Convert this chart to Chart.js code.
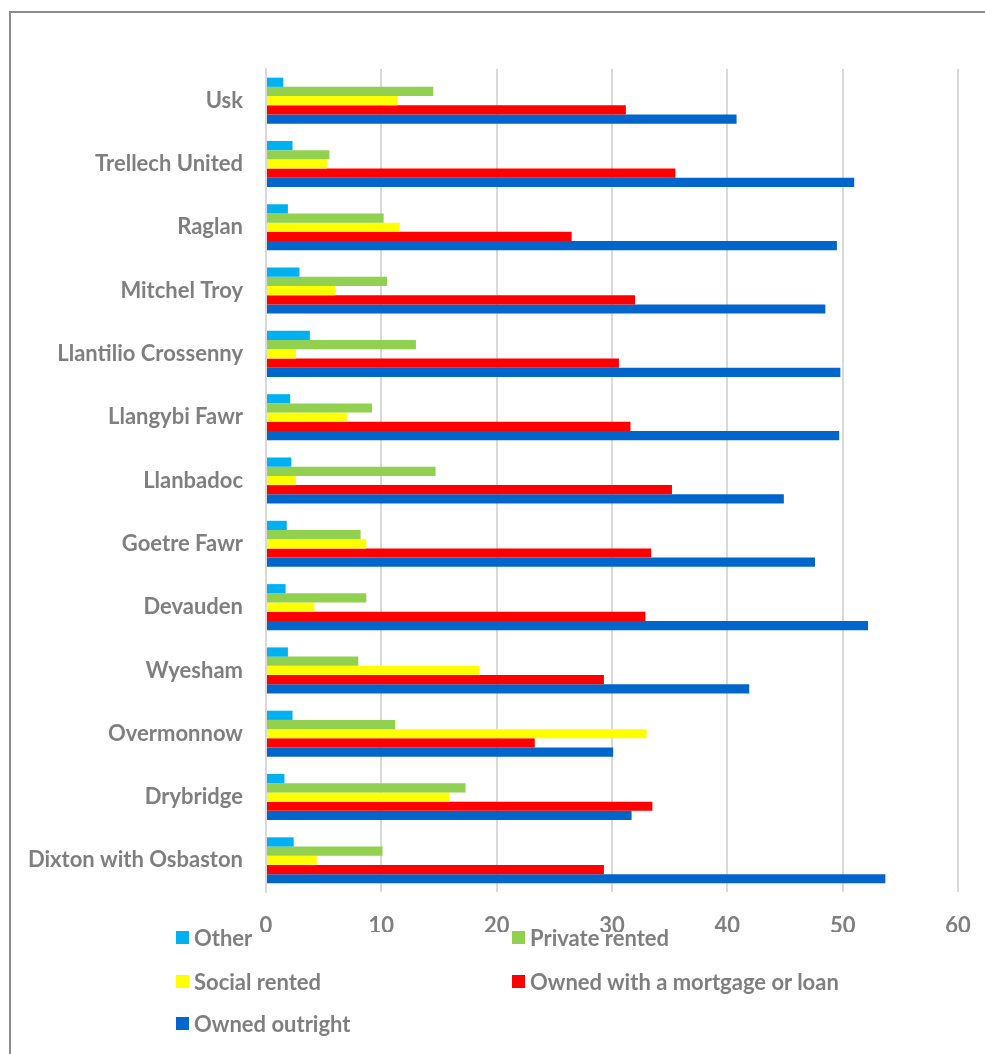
<!DOCTYPE html>
<html>
<head>
<meta charset="utf-8">
<script src="https://cdn.jsdelivr.net/npm/chart.js@4.4.0/dist/chart.umd.min.js"></script>
<style>
  html, body { margin: 0; padding: 0; background: #fff; overflow: hidden; }
  body { width: 985px; height: 1054px; position: relative; font-family: Lato, sans-serif; }
  .frame { position: absolute; left: 9px; top: 11px; width: 1100px; height: 1100px; border: 2px solid #8c8c8c; box-sizing: border-box; }
  #wrap { position: absolute; left: 0; top: 0; width: 985px; height: 1054px; }
  .legend { position: absolute; left: 176px; top: 926px; display: grid; grid-template-columns: 336px auto; grid-template-rows: 44px 42px 42px; }
  .item { display: flex; align-items: center; height: 22px; font-weight: bold; font-size: 22px; color: #7f7f7f; white-space: nowrap; }
  .box { width: 13px; height: 13px; margin-right: 5px; flex: none; }
</style>
</head>
<body>
<div class="frame"></div>
<div id="wrap"><canvas id="chart" width="985" height="1054"></canvas></div>
<div class="legend" id="legend"></div>
<script>
// wards, top to bottom
const wards = ['Usk', 'Trellech United', 'Raglan', 'Mitchel Troy', 'Llantilio Crossenny', 'Llangybi Fawr',
  'Llanbadoc', 'Goetre Fawr', 'Devauden', 'Wyesham', 'Overmonnow', 'Drybridge', 'Dixton with Osbaston'];

// % of households by tenure
const other = [1.5, 2.3, 1.9, 2.9, 3.8, 2.1, 2.2, 1.8, 1.7, 1.9, 2.3, 1.6, 2.4];
const privateRented = [14.5, 5.5, 10.2, 10.5, 13.0, 9.2, 14.7, 8.2, 8.7, 8.0, 11.2, 17.3, 10.1];
const socialRented = [11.4, 5.3, 11.6, 6.0, 2.6, 7.0, 2.6, 8.7, 4.2, 18.5, 33.0, 15.9, 4.4];
const mortgage = [31.2, 35.5, 26.5, 32.0, 30.6, 31.6, 35.2, 33.4, 32.9, 29.3, 23.3, 33.5, 29.3];
const outright = [40.8, 51.0, 49.5, 48.5, 49.8, 49.7, 44.9, 47.6, 52.2, 41.9, 30.1, 31.7, 53.7];

const xTicks = [0, 10, 20, 30, 40, 50, 60];

const seriesNames = ['Other', 'Private rented', 'Social rented', 'Owned with a mortgage or loan', 'Owned outright'];
const seriesData = [other, privateRented, socialRented, mortgage, outright];
const seriesColors = ['#00b0f0', '#92d050', '#ffff00', '#ff0000', '#0066cc'];

const textGrey = '#7f7f7f';

function draw() {
  Chart.defaults.font.family = 'Lato';
  Chart.defaults.font.weight = 'bold';
  Chart.defaults.font.size = 22;
  Chart.defaults.color = textGrey;

  const datasets = seriesNames.map((name, i) => ({
    label: name,
    data: seriesData[i],
    backgroundColor: seriesColors[i],
    borderWidth: 0,
    categoryPercentage: 0.727,
    barPercentage: 1
  }));

  new Chart(document.getElementById('chart'), {
    type: 'bar',
    data: { labels: wards, datasets: datasets },
    options: {
      indexAxis: 'y',
      responsive: false,
      devicePixelRatio: 1,
      animation: false,
      layout: { padding: { left: 0, right: 27, top: 69, bottom: 122 } },
      plugins: { legend: { display: false }, tooltip: { enabled: false } },
      scales: {
        x: {
          min: xTicks[0],
          max: xTicks[xTicks.length - 1],
          afterBuildTicks: (scale) => { scale.ticks = xTicks.map(v => ({ value: v })); },
          afterFit: (scale) => {
            scale.height = 40;
            // keep the plot edge where the picture has it
            scale.paddingLeft = 0;
            scale.paddingRight = 0;
          },
          grid: { color: '#d9d9d9', lineWidth: 2, drawTicks: false },
          border: { display: false },
          ticks: { padding: 21, maxRotation: 0 }
        },
        y: {
          afterFit: (scale) => { scale.width = 266; },
          grid: { display: false, drawTicks: false },
          border: { display: true, color: '#d9d9d9', width: 2 },
          ticks: { padding: 23 }
        }
      }
    }
  });

  // legend in two columns, same order as the datasets
  const legend = document.getElementById('legend');
  seriesNames.forEach((name, i) => {
    const item = document.createElement('div');
    item.className = 'item';
    const box = document.createElement('span');
    box.className = 'box';
    box.style.background = seriesColors[i];
    item.appendChild(box);
    item.appendChild(document.createTextNode(name));
    legend.appendChild(item);
  });
}

document.fonts.load('bold 22px Lato').then(draw, draw);
</script>
</body>
</html>
